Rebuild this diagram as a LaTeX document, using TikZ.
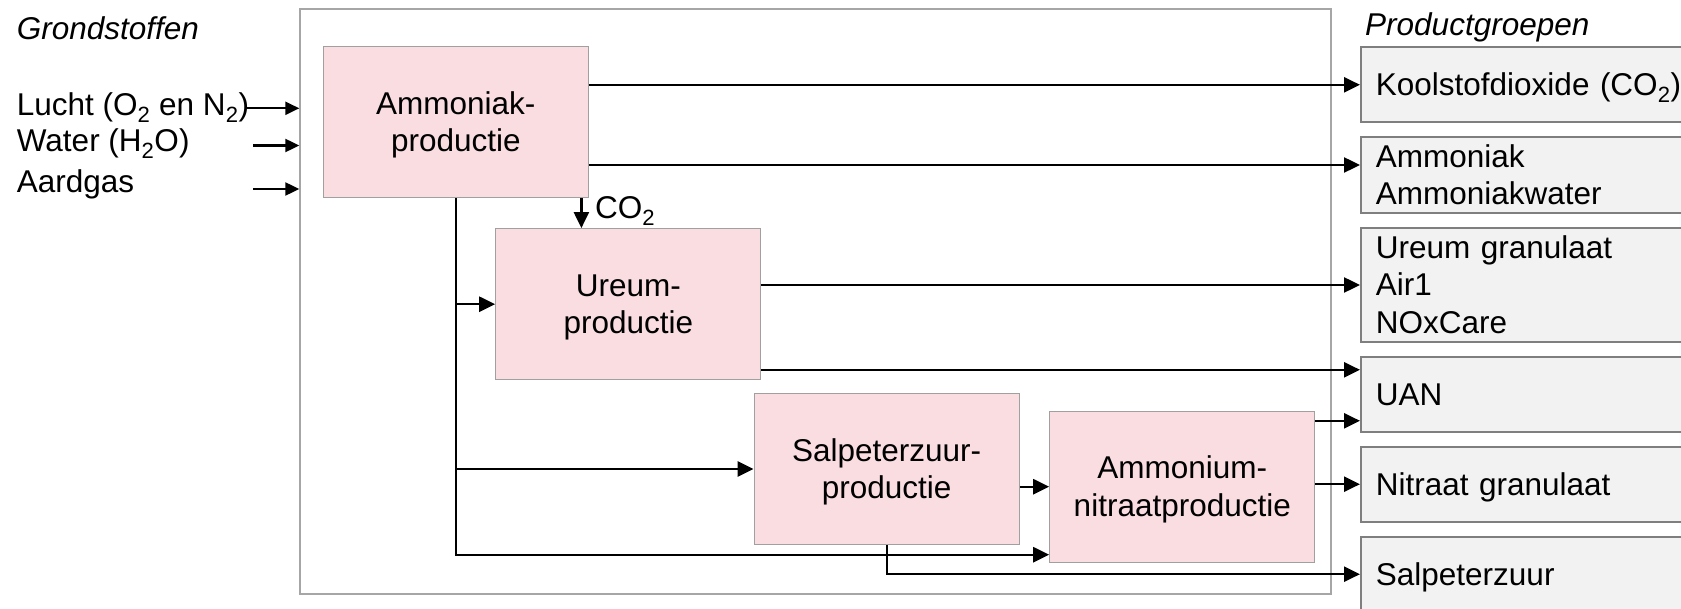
\documentclass[tikz,border=0pt]{standalone}
\usepackage{fontspec}
\setmainfont{Liberation Sans}
\usetikzlibrary{arrows.meta}
\definecolor{boxpink}{RGB}{249,221,225}
\definecolor{boxedge}{RGB}{160,160,160}
\definecolor{prodfill}{RGB}{242,242,242}
\definecolor{prodedge}{RGB}{127,127,127}
\definecolor{frameedge}{RGB}{166,166,166}
\newcommand\mystrut{\rule[-6.7pt]{0pt}{35.2pt}}
\begin{document}
\begin{tikzpicture}[x=1pt,y=-1pt,
  every node/.style={font=\fontsize{31.5}{37.5}\selectfont},
  procbox/.style={draw=boxedge, line width=1.2pt, fill=boxpink, minimum width=265pt, minimum height=151pt, inner sep=0pt, align=center},
  prodbox/.style={draw=prodedge, line width=1.8pt, fill=prodfill, anchor=west, text width=330pt, inner xsep=15pt, inner ysep=0pt, align=left},
  lbl/.style={inner sep=0pt, anchor=base west},
  hdr/.style={lbl, font=\fontsize{31.5}{37.5}\selectfont\itshape},
  arr/.style={line width=2.4pt, -{Triangle[length=16pt,width=15pt]}},
  inarr/.style={line width=2.2pt, -{Triangle[length=14pt,width=13pt]}}
]
\useasboundingbox (0,0) rectangle (1681,609);
\clip (0,0) rectangle (1681,609);
\fill[white] (0,0) rectangle (1681,609);

% frame
\node[draw=frameedge, line width=1.4pt, minimum width=1031pt, minimum height=585pt, inner sep=0pt] (frame) at (815.5,301.5) {};

% headers
\node[hdr] (grond) at (16.7,40) {Grondstoffen};
\node[hdr] (prodgr) at (1365,35.5) {Productgroepen};

% inputs
\node[lbl] (lucht) at (16.7,116) {Lucht (O\textsubscript{2} en N\textsubscript{2})};
\node[lbl] (water) at (16.7,151.7) {Water (H\textsubscript{2}O)};
\node[lbl] (aardgas) at (16.7,193) {Aardgas};
\coordinate (lu) at (247,108.3);
\coordinate (wa) at (253,145.5);
\coordinate (aa) at (253,189);
\draw[inarr] (lu) -- (frame.west |- lu);
\draw[inarr] (wa) -- (frame.west |- wa);
\draw[inarr] (aa) -- (frame.west |- aa);

% process boxes
\node[procbox] (amm) at (455.8,122.2) {\mystrut Ammoniak-\\productie\mystrut};
\node[procbox] (ure) at (628.3,304.2) {\mystrut Ureum-\\productie\mystrut};
\node[procbox] (sal) at (886.7,469) {\mystrut Salpeterzuur-\\productie\mystrut};
\node[procbox] (ano) at (1182.3,486.7) {\mystrut Ammonium-\\nitraatproductie\mystrut};

% product boxes
\node[prodbox, minimum height=75pt] (p1) at (1360,84.8) {\mystrut Koolstofdioxide (CO\textsubscript{2})\mystrut};
\node[prodbox, minimum height=75.4pt] (p2) at (1360,175) {\mystrut Ammoniak\\Ammoniakwater\mystrut};
\node[prodbox, minimum height=113.4pt] (p3) at (1360,285) {\mystrut Ureum granulaat\\Air1\\NOxCare\mystrut};
\node[prodbox, minimum height=75pt] (p4) at (1360,394.8) {\mystrut UAN\mystrut};
\node[prodbox, minimum height=75pt] (p5) at (1360,484.2) {\mystrut Nitraat granulaat\mystrut};
\node[prodbox, minimum height=75pt] (p6) at (1360,574.2) {\mystrut Salpeterzuur\mystrut};

% helper coordinates
\coordinate (p2in) at ([yshift=10pt]p2.west);
\coordinate (p4a) at ([yshift=25pt]p4.west);
\coordinate (p4b) at ([yshift=-26pt]p4.west);
\coordinate (anoin) at ([yshift=-68pt]ano.west);
\coordinate (co2top) at ([xshift=-7.5pt]amm.south east);

% connectors
\draw[arr] (amm.east |- p1.west) -- (p1.west);
\draw[arr] (amm.east |- p2in) -- (p2in);
\draw[arr] (ure.east |- p3.west) -- (p3.west);
\draw[arr] (ure.east |- p4a) -- (p4a);
\draw[arr] (ano.east |- p4b) -- (p4b);
\draw[arr] (ano.east |- p5.west) -- (p5.west);
\draw[arr] (sal.south) |- (p6.west);
\draw[arr] (sal.east |- ano.west) -- (ano.west);
\draw[arr] (amm.south) |- (anoin);
\draw[arr] (amm.south |- ure.west) -- (ure.west);
\draw[arr] (amm.south |- sal.west) -- (sal.west);
\draw[arr] (co2top) -- (co2top |- ure.north);
\node[lbl] (co2) at (595,218.3) {CO\textsubscript{2}};
\end{tikzpicture}
\end{document}
